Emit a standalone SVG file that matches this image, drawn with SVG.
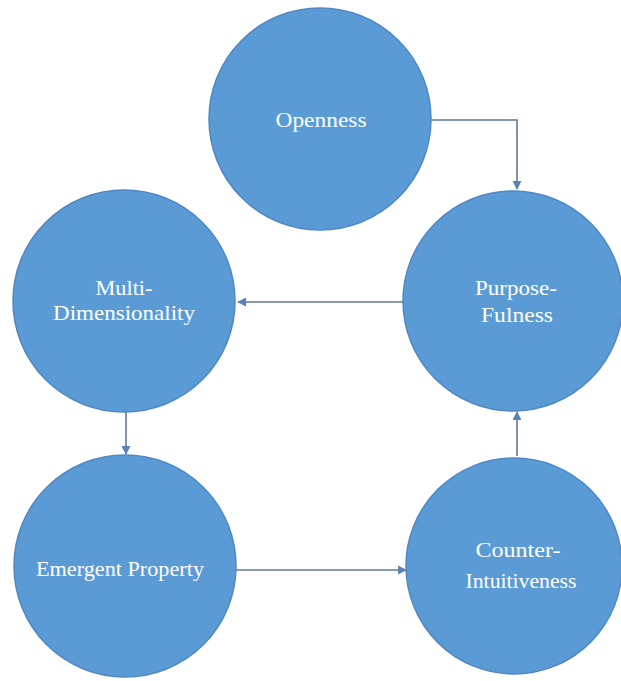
<svg xmlns="http://www.w3.org/2000/svg" width="621" height="681" viewBox="0 0 621 681">
<style>
.node{fill:#5B9BD5;stroke:#4F88C2;stroke-width:1.5}
.lbl{font-family:'Liberation Serif','DejaVu Serif','Times New Roman',serif;font-size:22px;fill:#FFFFFF;text-anchor:middle}
.conn{fill:none;stroke:#5F7896;stroke-width:1.6}
</style>
<defs>
<marker id="arr" viewBox="0 0 10 10" refX="9" refY="5" markerWidth="9" markerHeight="9" markerUnits="userSpaceOnUse" orient="auto">
<path d="M0,0 L10,5 L0,10 z" fill="#5A82B4"/>
</marker>
</defs>
<rect width="621" height="681" fill="#FFFFFF"/>
<g id="connectors">
<path class="conn" d="M431,120 H517 V189" marker-end="url(#arr)"/>
<path class="conn" d="M406,302 H238" marker-end="url(#arr)"/>
<path class="conn" d="M126,411 V454" marker-end="url(#arr)"/>
<path class="conn" d="M235,570 H406" marker-end="url(#arr)"/>
<path class="conn" d="M517,456 V412" marker-end="url(#arr)"/>
</g>
<g id="openness">
<circle class="node" cx="320" cy="119" r="111"/>
<text class="lbl" x="321" y="127" textLength="91" lengthAdjust="spacingAndGlyphs">Openness</text>
</g>
<g id="purposefulness">
<circle class="node" cx="513" cy="301" r="110"/>
<text class="lbl" x="516" y="295" textLength="82" lengthAdjust="spacingAndGlyphs">Purpose-</text>
<text class="lbl" x="517" y="322" textLength="72" lengthAdjust="spacingAndGlyphs">Fulness</text>
</g>
<g id="multidimensionality">
<circle class="node" cx="124" cy="301" r="111"/>
<text class="lbl" x="124" y="295" textLength="57" lengthAdjust="spacingAndGlyphs">Multi-</text>
<text class="lbl" x="124" y="320" textLength="142" lengthAdjust="spacingAndGlyphs">Dimensionality</text>
</g>
<g id="emergent">
<circle class="node" cx="125" cy="566" r="111"/>
<text class="lbl" x="120" y="576" textLength="168" lengthAdjust="spacingAndGlyphs">Emergent Property</text>
</g>
<g id="counter">
<circle class="node" cx="514" cy="566" r="108"/>
<text class="lbl" x="518" y="557" textLength="85" lengthAdjust="spacingAndGlyphs">Counter-</text>
<text class="lbl" x="521" y="588" textLength="111" lengthAdjust="spacingAndGlyphs">Intuitiveness</text>
</g>
</svg>
